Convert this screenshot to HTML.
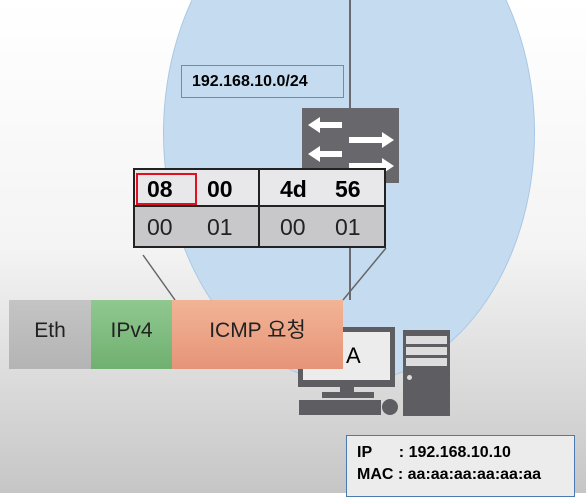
<!DOCTYPE html>
<html><head><meta charset="utf-8"><style>
body{margin:0;width:586px;height:493px;overflow:hidden;position:relative;font-family:"Liberation Sans","Noto Sans CJK KR",sans-serif;background:linear-gradient(#ffffff 0%,#f4f4f4 50%,#c6c6c6 100%);}
.a{position:absolute;box-sizing:border-box;}
</style></head><body>
<div class="a" style="left:163px;top:-117px;width:372px;height:500px;border-radius:50%;background:#c5dcf0;border:1px solid #a9c8e4"></div>
<div class="a" style="left:349px;top:0;width:2px;height:300px;background:#6a6a70"></div>
<div class="a" style="left:181px;top:65px;width:163px;height:33px;border:1px solid #5b8fc7;font-weight:bold;font-size:16px;line-height:31px;padding-left:10px">192.168.10.0/24</div>
<div class="a" style="left:302px;top:108px;width:97px;height:75px;background:#68686c"></div>
<svg class="a" style="left:302px;top:108px" width="97" height="75"><g fill="#fff">
<polygon points="6,17 18,9 18,14 40,14 40,20 18,20 18,25"/>
<polygon points="92,32 80,24 80,29 47,29 47,35 80,35 80,40"/>
<polygon points="6,46 18,38 18,43 40,43 40,49 18,49 18,54"/>
<polygon points="92,58 80,50 80,55 47,55 47,61 80,61 80,66"/></g></svg>
<div class="a" style="left:133px;top:168px;width:253px;height:80px;border:2px solid #222;background:#c8c8ca"></div>
<div class="a" style="left:135px;top:170px;width:249px;height:37px;background:#e8e8ea;border-bottom:2px solid #222"></div>
<div class="a" style="left:258px;top:170px;width:2px;height:76px;background:#222"></div>
<div class="a" style="left:136px;top:173px;width:61px;height:32px;border:2px solid #e01020"></div>
<div class="a" style="top:171px;left:135px;width:249px;height:36px;font-size:23px;font-weight:bold;line-height:36px">
<span class="a" style="left:12px">08</span><span class="a" style="left:72px">00</span><span class="a" style="left:145px">4d</span><span class="a" style="left:200px">56</span></div>
<div class="a" style="top:208px;left:135px;width:249px;height:38px;font-size:23px;line-height:38px;color:#222">
<span class="a" style="left:12px">00</span><span class="a" style="left:72px">01</span><span class="a" style="left:145px">00</span><span class="a" style="left:200px">01</span></div>
<svg class="a" style="left:0;top:0" width="586" height="493"><g stroke="#666" stroke-width="1.5"><line x1="143" y1="255" x2="175" y2="300"/><line x1="386" y1="248" x2="343" y2="300"/></g></svg>
<div class="a" style="left:298px;top:327px;width:97px;height:60px;background:#5e5e62"></div>
<div class="a" style="left:303px;top:332px;width:87px;height:48px;background:#ececec;font-size:22px;padding-left:43px;line-height:48px">A</div>
<div class="a" style="left:340px;top:385px;width:14px;height:8px;background:#5e5e62"></div>
<div class="a" style="left:322px;top:392px;width:52px;height:6px;background:#5e5e62"></div>
<div class="a" style="left:299px;top:400px;width:82px;height:15px;background:#5e5e62"></div>
<div class="a" style="left:382px;top:399px;width:16px;height:16px;border-radius:50%;background:#5e5e62"></div>
<div class="a" style="left:403px;top:330px;width:47px;height:86px;background:#5e5e62"></div>
<div class="a" style="left:406px;top:336px;width:41px;height:8px;background:#ddd"></div>
<div class="a" style="left:406px;top:347px;width:41px;height:8px;background:#ddd"></div>
<div class="a" style="left:406px;top:358px;width:41px;height:8px;background:#ddd"></div>
<div class="a" style="left:407px;top:375px;width:5px;height:5px;border-radius:50%;background:#ddd"></div>
<div class="a" style="left:9px;top:300px;width:82px;height:69px;background:linear-gradient(#c4c4c4,#b4b4b4);font-size:21px;line-height:62px;text-align:center;color:#222">Eth</div>
<div class="a" style="left:91px;top:300px;width:81px;height:69px;background:linear-gradient(#90c890,#70b070);font-size:21px;line-height:62px;text-align:center;color:#222">IPv4</div>
<div class="a" style="left:172px;top:300px;width:171px;height:69px;background:linear-gradient(#f2b496,#e69478);font-size:21px;line-height:62px;text-align:center;color:#222">ICMP 요청</div>
<div class="a" style="left:346px;top:435px;width:229px;height:62px;border:1px solid #4a7bb0;background:#ececec;font-weight:bold;font-size:16px;line-height:22px;padding:6px 0 0 10px">IP&nbsp;&nbsp;&nbsp;&nbsp;&nbsp;&nbsp;: 192.168.10.10<br>MAC : aa:aa:aa:aa:aa:aa</div>
</body></html>
